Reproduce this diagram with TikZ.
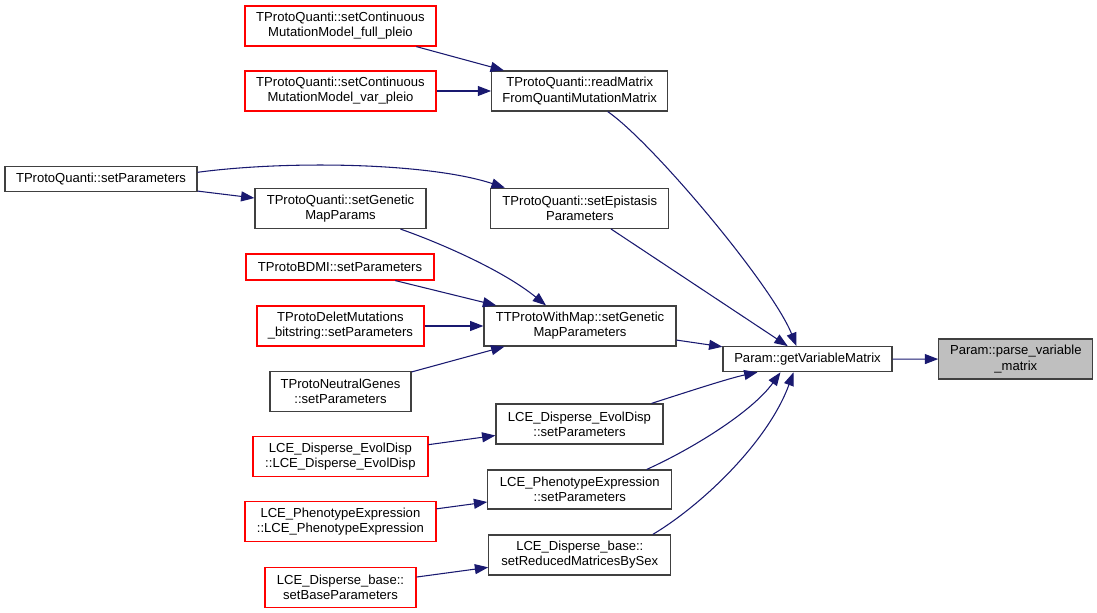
\documentclass[tikz,border=0pt]{standalone}
\usepackage{fontspec}
\setmainfont{Liberation Sans}
\usetikzlibrary{arrows.meta,calc}
\definecolor{edgeblue}{HTML}{191970}
\definecolor{boxred}{HTML}{FF0000}
\definecolor{boxgray}{HTML}{BFBFBF}
\tikzset{
  box/.style={draw=black!75, line width=0.9pt, fill=white, align=center, inner sep=0pt,
    font=\fontsize{9.8}{11.4}\selectfont},
  redbox/.style={box, draw=boxred},
  graybox/.style={box, fill=boxgray},
  sz/.style 2 args={minimum width={#1*0.75pt}, minimum height={#2*0.75pt}},
  edge/.style={draw=edgeblue, line width=0.8pt, -{Triangle[length=10pt,width=7.5pt]}, fill=none},
}
\begin{document}
\begin{tikzpicture}[x=0.75pt,y=-0.75pt]
\useasboundingbox (0,0) rectangle (1097,613);
% nodes
\node[redbox, sz={191}{40}] (fp) at (340.5,26) {TProtoQuanti::setContinuous\\MutationModel\_full\_pleio};
\node[redbox, sz={191}{40}] (vp) at (340.5,91) {TProtoQuanti::setContinuous\\MutationModel\_var\_pleio};
\node[box, sz={176}{40}] (rm) at (579.7,91) {TProtoQuanti::readMatrix\\FromQuantiMutationMatrix};
\node[box, sz={192}{25}] (sp) at (101,179.3) {TProtoQuanti::setParameters};
\node[box, sz={171}{40}] (gm) at (340.5,208.5) {TProtoQuanti::setGenetic\\MapParams};
\node[box, sz={178}{40}] (ep) at (579.8,208.3) {TProtoQuanti::setEpistasis\\Parameters};
\node[redbox, sz={188}{26}] (bd) at (340,267) {TProtoBDMI::setParameters};
\node[redbox, sz={167}{40}] (dm) at (340.4,326) {TProtoDeletMutations\\\_bitstring::setParameters};
\node[box, sz={192}{40}] (tw) at (580,326) {TTProtoWithMap::setGenetic\\MapParameters};
\node[box, sz={141}{40}] (ng) at (340.5,391.3) {TProtoNeutralGenes\\::setParameters};
\node[box, sz={169}{25}] (gv) at (807.5,359.2) {Param::getVariableMatrix};
\node[graybox, sz={154}{40}] (pv) at (1015.8,359) {Param::parse\_variable\\\_matrix};
\node[box, sz={167}{40}] (es) at (579.5,424) {LCE\_Disperse\_EvolDisp\\::setParameters};
\node[redbox, sz={175}{40}] (ec) at (340.4,456.7) {LCE\_Disperse\_EvolDisp\\::LCE\_Disperse\_EvolDisp};
\node[box, sz={184}{39}] (ps) at (579.8,489.5) {LCE\_PhenotypeExpression\\::setParameters};
\node[redbox, sz={191}{40}] (pc) at (340.4,521.8) {LCE\_PhenotypeExpression\\::LCE\_PhenotypeExpression};
\node[box, sz={182}{40}] (sr) at (579.8,555) {LCE\_Disperse\_base::\\setReducedMatricesBySex};
\node[redbox, sz={151}{40}] (sb) at (340.5,587.3) {LCE\_Disperse\_base::\\setBaseParameters};
% edges
\draw[edge] (fp) -- (rm);
\draw[edge] (vp) -- (rm);
\draw[edge] ($(rm.south)+(28,0)$) .. controls (652,142) and (772,285) .. ($(gv.north)+(-11,0)$);
\draw[edge] ($(sp.east)+(0,-7)$) .. controls (290,160) and (430,163) .. ($(ep.north)+(-75,0)$);
\draw[edge] (sp) -- (gm);
\draw[edge] ($(gm.south)+(60,0)$) .. controls (432,240) and (500,268) .. ($(tw.north)+(-34,0)$);
\draw[edge] (ep) -- (gv);
\draw[edge] (bd) -- (tw);
\draw[edge] (dm) -- (tw);
\draw[edge] (ng) -- (tw);
\draw[edge] (tw) -- (gv);
\draw[edge] (gv) -- (pv);
\draw[edge] ($(es.north)+(72,0)$) .. controls (690,391) and (730,378) .. ($(gv.south)+(-50,0)$);
\draw[edge] (ec) -- (es);
\draw[edge] ($(ps.north)+(67,0)$) .. controls (692,449) and (752,412) .. ($(gv.south)+(-27,0)$);
\draw[edge] (pc) -- (ps);
\draw[edge] ($(sr.north)+(73,0)$) .. controls (702,505) and (768,442) .. ($(gv.south)+(-14,0)$);
\draw[edge] (sb) -- (sr);
\end{tikzpicture}
\end{document}
